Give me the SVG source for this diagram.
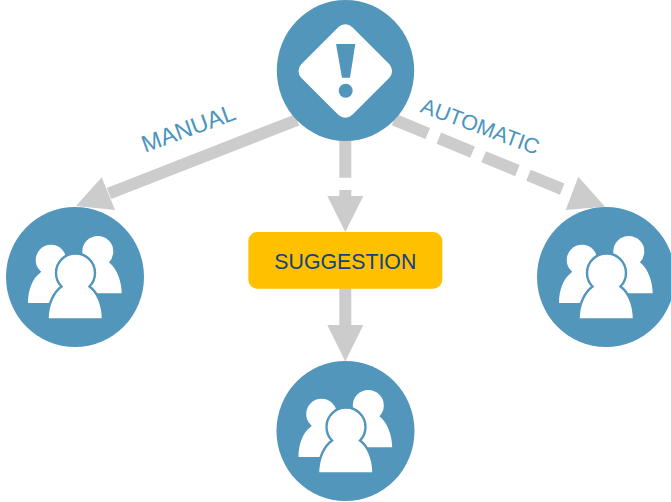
<svg xmlns="http://www.w3.org/2000/svg" width="671" height="502" viewBox="0 0 671 502">
<style>
.c{fill:#5296bc}
.w{fill:#fff}
.shaft{stroke:#cccccc;stroke-width:12;fill:none}
.head{fill:#cccccc}
.lbl{font-family:"Liberation Sans",Arial,sans-serif;fill:#4a94bd}
</style>
<defs>
<g id="people">
<circle class="w" cx="-24" cy="-17" r="15.300"/>
<path class="w" d="M-47 26C-47 12-42 1-35-4L-24-17H-12V26Z"/>
<circle class="w" cx="22.800" cy="-25.500" r="15.500"/>
<path class="w" d="M46.700 16.300C46.700 5 42-8 35-13.700L22.800-25H8V16.300Z"/>
<path fill="#fff" stroke="#5296bc" stroke-width="2.400" d="M-27.500 42.500C-27.500 27-21 15-13.500 9.500A19.500 19.500 0 1 1 14.500 9.500C22 15 28 27 28 42.500Z"/>
</g>
</defs>
<g id="connectors">
<path class="shaft" d="M297 120L109 193.500"/>
<polygon class="head" points="76,206 101.700,177.300 115,210"/>
<path class="shaft" d="M394 119.600L563 189.500" stroke-dasharray="36.500 12"/>
<polygon class="head" points="605,206.700 578.300,176.700 565.700,210"/>
<path class="shaft" d="M345.300 135V177.700M345.300 190V197"/>
<polygon class="head" points="327.300,196 363.300,196 345.300,232"/>
<path class="shaft" d="M345.300 288V326"/>
<polygon class="head" points="327.300,325 363.300,325 345.300,361.500"/>
</g>
<g id="alert">
<ellipse class="c" cx="345.500" cy="70.500" rx="68.700" ry="70.500"/>
<rect class="w" x="309.300" y="35" width="72" height="72" rx="10" transform="rotate(45 345.300 71)"/>
<polygon class="c" points="336,44 355.300,44 350,77.700 342,77.700"/>
<circle class="c" cx="345.700" cy="90.700" r="7"/>
</g>
<g id="users-left">
<ellipse class="c" cx="75" cy="277" rx="69" ry="70"/>
<use href="#people" x="75" y="277"/>
</g>
<g id="users-right">
<ellipse class="c" cx="606" cy="277" rx="69" ry="70"/>
<use href="#people" x="606" y="277"/>
</g>
<g id="users-bottom">
<ellipse class="c" cx="345.500" cy="431" rx="69" ry="70"/>
<use href="#people" x="345.500" y="431"/>
</g>
<g id="suggestion">
<rect x="248.300" y="232" width="194" height="56.700" rx="9" fill="#ffc000"/>
<text x="345.300" y="269" text-anchor="middle" font-family="'Liberation Sans',Arial,sans-serif" font-size="21.300" fill="#11437f">SUGGESTION</text>
</g>
<g id="labels">
<text class="lbl" font-size="23.600" transform="translate(145 152.700) rotate(-20)">MANUAL</text>
<text class="lbl" font-size="21.500" transform="translate(419.300 111.700) rotate(20.300)">AUTOMATIC</text>
</g>
</svg>
